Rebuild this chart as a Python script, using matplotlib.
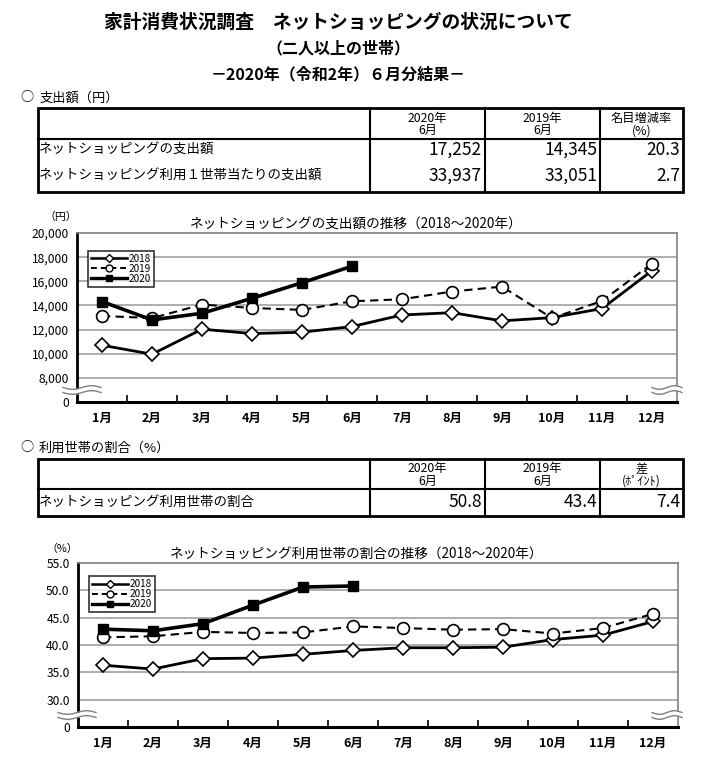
import numpy as np
import matplotlib.pyplot as plt
from matplotlib.lines import Line2D
from matplotlib.patches import Rectangle

plt.rcParams['font.family'] = ['Noto Sans CJK JP', 'DejaVu Sans']

months = ['1月', '2月', '3月', '4月', '5月', '6月', '7月', '8月', '9月', '10月', '11月', '12月']

# spending (yen)
spend_2018 = [10700, 9960, 12030, 11670, 11780, 12250, 13210, 13400, 12720, 12990, 13740, 16880]
spend_2019 = [13130, 12950, 14070, 13790, 13630, 14345, 14510, 15150, 15560, 12950, 14370, 17460]
spend_2020 = [14320, 12800, 13350, 14590, 15880, 17252]

# share of households using net shopping (%)
share_2018 = [36.3, 35.6, 37.5, 37.6, 38.3, 39.0, 39.5, 39.5, 39.6, 41.0, 41.8, 44.3]
share_2019 = [41.4, 41.6, 42.4, 42.2, 42.3, 43.4, 43.1, 42.8, 42.9, 42.1, 43.1, 45.7]
share_2020 = [42.9, 42.6, 43.9, 47.3, 50.6, 50.8]

t1_header = ['2020年\n6月', '2019年\n6月', '名目増減率\n(%)']
t1_rows = ['ネットショッピングの支出額', 'ネットショッピング利用１世帯当たりの支出額']
t1_vals = [['17,252', '14,345', '20.3'], ['33,937', '33,051', '2.7']]

t2_header = ['2020年\n6月', '2019年\n6月', '差\n(ﾎﾟｲﾝﾄ)']
t2_rows = ['ネットショッピング利用世帯の割合']
t2_vals = [['50.8', '43.4', '7.4']]

W, H = 709, 757
fig = plt.figure(figsize=(W / 100, H / 100), dpi=100)
bg = fig.add_axes([0, 0, 1, 1], zorder=0)
bg.set_xlim(0, W)
bg.set_ylim(H, 0)
bg.axis('off')


def px_axes(l, t, r, b, z=1):
    return fig.add_axes([l / W, 1 - b / H, (r - l) / W, (b - t) / H], zorder=z)


# titles
bg.text(338, 22, '家計消費状況調査　ネットショッピングの状況について', ha='center', va='center',
        fontsize=13.5, fontweight='bold')
bg.text(338, 48, '（二人以上の世帯）', ha='center', va='center', fontsize=11.5, fontweight='bold')
bg.text(338, 74, '－2020年（令和2年）６月分結果－', ha='center', va='center', fontsize=11.5, fontweight='bold')

bg.text(20, 98, '○', ha='left', va='center', fontsize=9.5)
bg.text(39, 98, '支出額（円）', ha='left', va='center', fontsize=9.5)
bg.text(20, 448, '○', ha='left', va='center', fontsize=9.5)
bg.text(39, 448, '利用世帯の割合（%）', ha='left', va='center', fontsize=9.5)


def draw_table(top, head_bot, bottom, header, rows, vals, row_y):
    left, right = 38, 683
    cols = [370, 485, 600]
    bg.add_patch(Rectangle((left, top), right - left, bottom - top, fill=False, lw=2, ec='black'))
    for c in cols:
        bg.plot([c, c], [top, bottom], color='black', lw=1.5)
    bg.plot([left, right], [head_bot, head_bot], color='black', lw=1.5)
    edges = cols + [right]
    for i, h in enumerate(header):
        cx = (edges[i] + edges[i + 1]) / 2
        bg.text(cx, (top + head_bot) / 2 + 1, h, ha='center', va='center', fontsize=8.8, linespacing=0.95)
    for j, r in enumerate(rows):
        bg.text(left + 1, row_y[j], r, ha='left', va='center', fontsize=9.7)
        for i, v in enumerate(vals[j]):
            bg.text(edges[i + 1] - 3, row_y[j], v, ha='right', va='center', fontsize=12.5)


draw_table(108, 139, 192, t1_header, t1_rows, t1_vals, [150, 176])
draw_table(459, 489, 516, t2_header, t2_rows, t2_vals, [502])


def style_axes(ax, ylo, yhi, ticks, labels):
    x = np.arange(1, 13)
    ax.set_xlim(0.5, 12.5)
    ax.set_ylim(ylo, yhi)
    ax.set_xticks(x)
    ax.set_xticklabels(months, fontsize=9, fontweight='bold')
    ax.set_xticks(np.arange(1.5, 12.5, 1), minor=True)
    ax.tick_params(axis='x', which='major', length=0, pad=7)
    ax.tick_params(axis='x', which='minor', direction='in', length=5, width=1.2, color='black')
    ax.set_yticks(ticks)
    ax.set_yticklabels(labels, fontsize=8.7)
    ax.tick_params(axis='y', length=0, pad=6)
    for t in ticks[1:-1]:
        ax.axhline(t, color='#a0a0a0', lw=1.2, zorder=1)
    ax.spines['left'].set_linewidth(2)
    ax.spines['bottom'].set_linewidth(2.2)
    ax.spines['top'].set_color('#808080')
    ax.spines['right'].set_color('#808080')
    ax.spines['top'].set_linewidth(1.2)
    ax.spines['right'].set_linewidth(1.2)


def plot_series(ax, s18, s19, s20):
    ax.plot(np.arange(1, len(s18) + 1), s18, color='black', lw=2, marker='D', ms=7,
            mfc='white', mec='black', mew=1.2, zorder=3)
    ax.plot(np.arange(1, len(s19) + 1), s19, color='black', lw=1.5, ls=(0, (4, 2.5)), marker='o', ms=8.5,
            mfc='white', mec='black', mew=1.2, zorder=4)
    ax.plot(np.arange(1, len(s20) + 1), s20, color='black', lw=2.6, marker='s', ms=7.5,
            mfc='black', mec='black', zorder=5)


def add_legend(ax, x0, y0):
    handles = [
        Line2D([], [], color='black', lw=1.8, marker='D', ms=4, mfc='white', mew=1),
        Line2D([], [], color='black', lw=1.4, ls=(0, (3, 2)), marker='o', ms=5, mfc='white', mew=1),
        Line2D([], [], color='black', lw=2.4, marker='s', ms=5, mfc='black'),
    ]
    leg = ax.legend(handles, ['2018', '2019', '2020'], loc='upper left', bbox_to_anchor=(x0, y0),
                    borderaxespad=0, fontsize=7.2, frameon=True, fancybox=False, handlelength=3.6,
                    handletextpad=0.2, labelspacing=0.0, borderpad=0.3)
    leg.get_frame().set_edgecolor('black')
    leg.get_frame().set_linewidth(1.2)
    leg.set_zorder(10)


ax1 = px_axes(77, 233, 677, 402)
style_axes(ax1, 6000, 20000, [6000, 8000, 10000, 12000, 14000, 16000, 18000, 20000],
           ['0', '8,000', '10,000', '12,000', '14,000', '16,000', '18,000', '20,000'])
plot_series(ax1, spend_2018, spend_2019, spend_2020)
add_legend(ax1, 0.018, 0.895)
ax1.set_title('ネットショッピングの支出額の推移（2018～2020年）', fontsize=9.8, pad=3, x=0.465)
bg.text(61, 217, '（円）', ha='center', va='center', fontsize=7.8)

ax2 = px_axes(78, 563, 678, 727)
style_axes(ax2, 25, 55, [25, 30, 35, 40, 45, 50, 55],
           ['0', '30.0', '35.0', '40.0', '45.0', '50.0', '55.0'])
plot_series(ax2, share_2018, share_2019, share_2020)
add_legend(ax2, 0.018, 0.92)
ax2.set_title('ネットショッピング利用世帯の割合の推移（2018～2020年）', fontsize=9.8, pad=3, x=0.465)
bg.text(62, 549, '（%）', ha='center', va='center', fontsize=7.8)

# axis break marks drawn on top
fg = fig.add_axes([0, 0, 1, 1], zorder=20)
fg.set_xlim(0, W)
fg.set_ylim(H, 0)
fg.axis('off')
fg.patch.set_alpha(0)


def wave_break(x0, x1, yc):
    xs = np.linspace(x0, x1, 60)
    ph = (xs - x0) / (x1 - x0) * 2 * np.pi
    up = yc - 2.5 + 1.8 * np.sin(ph)
    lo = yc + 2.5 + 1.8 * np.sin(ph)
    fg.fill_between(xs, up, lo, color='white', lw=0)
    fg.plot(xs, up, color='#808080', lw=1)
    fg.plot(xs, lo, color='#808080', lw=1)


wave_break(63, 101, 390)
wave_break(652, 682, 390)
wave_break(58, 96, 715)
wave_break(652, 682, 715)

fig.savefig('out.png', dpi=100)
